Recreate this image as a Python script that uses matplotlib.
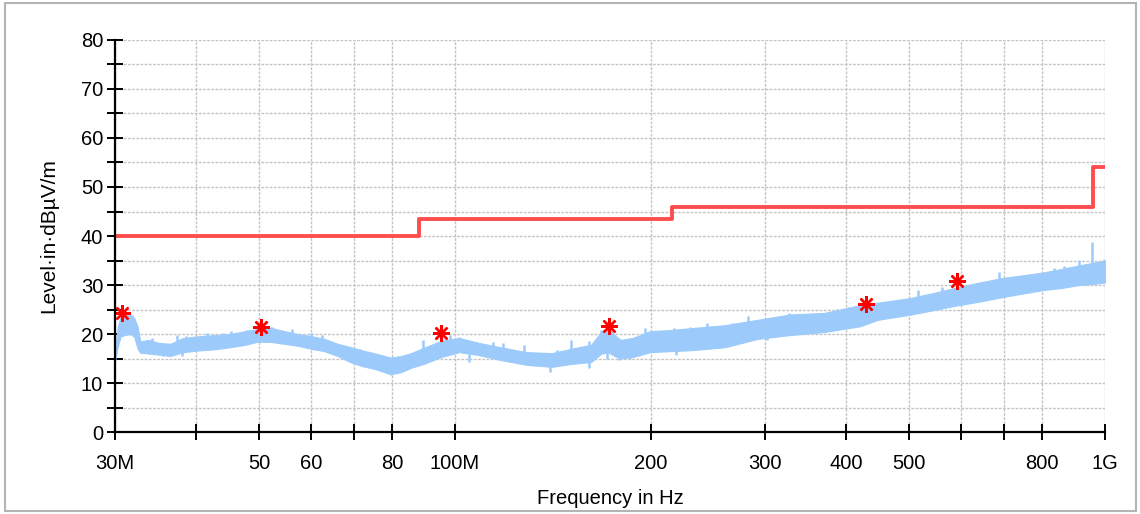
import matplotlib
matplotlib.use("Agg")
import matplotlib.pyplot as plt
from matplotlib.patches import Rectangle
from matplotlib.ticker import FixedLocator, FixedFormatter, NullLocator

plt.rcParams['font.family'] = ['Liberation Sans', 'DejaVu Sans']

# Measured trace envelope (frequency in MHz, level in dBµV/m)
trace_freq = [30.0, 30.3, 30.6, 31.1, 31.6, 32.1, 32.5, 32.8, 33.8, 35.0,
              36.5, 38.2, 40.0, 42.8, 45.1, 47.6, 49.6, 52.0, 54.6, 57.3,
              60.0, 63.0, 66.0, 69.2, 71.8, 75.6, 79.6, 82.6, 85.6, 90.0,
              95.2, 101.5, 108.8, 117.5, 128.9, 141.0, 151.1, 162.0, 168.0, 172.0,
              176.0, 180.0, 187.7, 199.8, 213.9, 231.2, 260.2, 292.2, 328.3, 369.8,
              420.5, 447.3, 499.5, 546.0, 595.6, 640.0, 699.8, 750.0, 807.0, 858.0,
              913.0, 955.0, 1000.0]
trace_low = [14.5, 17.5, 19.5, 19.8, 20.0, 19.5, 17.0, 16.2, 16.0, 15.8,
             15.5, 16.3, 16.6, 16.9, 17.3, 17.8, 18.4, 18.4, 18.0, 17.6,
             17.0, 16.5, 15.5, 14.2, 13.5, 12.8, 11.8, 12.2, 13.1, 14.0,
             15.3, 16.3, 15.7, 14.7, 13.7, 13.3, 13.9, 14.3, 16.0, 16.3,
             15.5, 15.0, 15.3, 16.3, 16.5, 16.7, 17.3, 19.0, 19.8, 20.4,
             21.6, 22.9, 23.9, 24.9, 25.9, 26.6, 27.6, 28.3, 29.0, 29.4,
             30.0, 30.2, 30.5]
trace_high = [17.0, 21.5, 23.5, 23.8, 24.0, 23.3, 21.5, 18.5, 18.8, 18.2,
              18.0, 19.2, 19.5, 19.8, 20.0, 20.6, 21.0, 21.3, 20.6, 20.0,
              19.6, 19.0, 18.0, 17.3, 16.7, 16.0, 15.2, 15.5, 16.1, 17.3,
              18.6, 19.2, 18.2, 17.3, 16.3, 16.1, 17.0, 17.8, 20.5, 21.3,
              19.8, 18.8, 19.2, 20.6, 20.8, 21.2, 21.8, 22.9, 24.0, 24.3,
              25.9, 26.4, 27.3, 28.4, 29.6, 30.5, 31.5, 32.0, 32.6, 33.3,
              34.0, 34.5, 35.0]

# Narrow spikes reaching outside the envelope (from, to)
spike_freq = [30.86, 31.4, 31.9, 34.2, 37.3, 38.6, 41.5, 43.9, 45.3, 47.8,
              52.3, 56.1, 60.0, 62.5, 67.2, 71.5, 89.4, 98.2, 101.5, 107.8,
              114.3, 118.4, 127.8, 143.6, 151.1, 160.5, 168.0, 196.4, 217.5, 230.0,
              244.5, 267.5, 282.0, 327.0, 386.5, 404.0, 515.6, 562.0, 686.0, 835.0,
              864.0, 912.0, 955.0, 998.0,
              35.5, 38.0, 79.6, 105.2, 140.0, 160.5, 171.1, 178.8, 186.2, 219.0,
              302.0]
spike_from = [21.0, 21.0, 20.5, 17.0, 17.0, 17.5, 18.0, 18.0, 18.5, 19.0,
              19.5, 19.0, 18.0, 17.5, 16.0, 15.0, 15.5, 17.0, 17.5, 17.0,
              16.0, 16.0, 15.0, 14.5, 15.5, 16.0, 18.0, 18.5, 18.5, 19.0,
              19.5, 19.5, 20.5, 22.0, 23.0, 23.5, 26.0, 26.5, 29.5, 31.0,
              31.5, 32.0, 32.5, 33.0,
              17.0, 17.5, 13.5, 16.0, 14.5, 15.5, 17.0, 16.5, 16.5, 18.0,
              20.0]
spike_to = [24.3, 24.0, 23.8, 19.2, 19.8, 19.6, 20.2, 20.2, 20.6, 20.8,
            21.4, 21.0, 20.2, 19.8, 17.8, 16.9, 18.8, 19.8, 19.4, 18.4,
            18.4, 18.2, 17.8, 16.7, 18.8, 18.5, 20.8, 21.2, 21.2, 21.5,
            22.2, 22.2, 23.7, 24.3, 25.1, 25.5, 29.0, 29.6, 32.7, 33.5,
            33.8, 35.1, 38.8, 35.3,
            15.5, 15.6, 11.6, 14.3, 12.2, 13.1, 15.0, 14.7, 14.8, 15.8,
            18.8]

# Limit line (steps)
limit_freq = [30.0, 88.0, 216.0, 960.0, 1000.0]
limit_level = [40.0, 43.5, 46.0, 54.0, 54.0]

# Peak markers
peak_freq = [30.75, 50.4, 95.2, 172.5, 429.0, 592.0]
peak_level = [24.3, 21.4, 20.2, 21.7, 26.1, 30.8]

# Axis ticks
x_ticks = [30, 40, 50, 60, 70, 80, 100, 200, 300, 400, 500, 600, 700, 800, 1000]
x_tick_labels = ['30M', '', '50', '60', '', '80', '100M', '200', '300', '400',
                 '500', '', '', '800', '1G']
y_ticks = [0, 5, 10, 15, 20, 25, 30, 35, 40, 45, 50, 55, 60, 65, 70, 75, 80]
y_tick_labels = ['0', '', '10', '', '20', '', '30', '', '40', '', '50', '',
                 '60', '', '70', '', '80']

fig = plt.figure(figsize=(11.4, 5.14), dpi=100)
fig.patches.append(Rectangle((5 / 1140, 3 / 514), 1131 / 1140, 508 / 514,
                             transform=fig.transFigure, fill=False,
                             ec='#b4b4b4', lw=1.5))

ax = fig.add_axes([0.1009, 0.1595, 0.8684, 0.7627])
ax.set_xscale('log')
ax.set_xlim(30, 1000)
ax.set_ylim(0, 80)

trace_color = '#9ccbfb'
ax.fill_between(trace_freq, trace_low, trace_high, color=trace_color, lw=0.8,
                ec=trace_color, zorder=3)
ax.vlines(spike_freq, spike_from, spike_to, color=trace_color, lw=1.8, zorder=3)

ax.step(limit_freq, limit_level, where='post', color='#ff4d4d', lw=2.8, zorder=4)

ax.plot(peak_freq, peak_level, linestyle='none', marker=(8, 2, 0),
        markersize=12, mec='#ff0000', mew=1.7, zorder=5)

ax.xaxis.set_major_locator(FixedLocator(x_ticks))
ax.xaxis.set_major_formatter(FixedFormatter(x_tick_labels))
ax.xaxis.set_minor_locator(NullLocator())
ax.yaxis.set_major_locator(FixedLocator(y_ticks))
ax.yaxis.set_major_formatter(FixedFormatter(y_tick_labels))

ax.grid(True, color='#c4c4c4', linestyle=(0, (2, 1)), lw=1.0)
ax.set_axisbelow(True)

for side in ('top', 'right'):
    ax.spines[side].set_visible(False)
for side in ('left', 'bottom'):
    ax.spines[side].set_linewidth(1.6)
    ax.spines[side].set_color('black')
    ax.spines[side].set_zorder(6)

ax.tick_params(axis='both', direction='inout', length=11, width=1.4,
               color='black', labelsize=14.5, labelcolor='black')
ax.tick_params(axis='y', pad=3)
ax.tick_params(axis='x', pad=10)

ax.set_ylabel('Level·in·dBµV/m', fontsize=15, labelpad=16)
ax.set_xlabel('Frequency in Hz', fontsize=14.5, labelpad=12)

fig.savefig('out.png', dpi=100)
